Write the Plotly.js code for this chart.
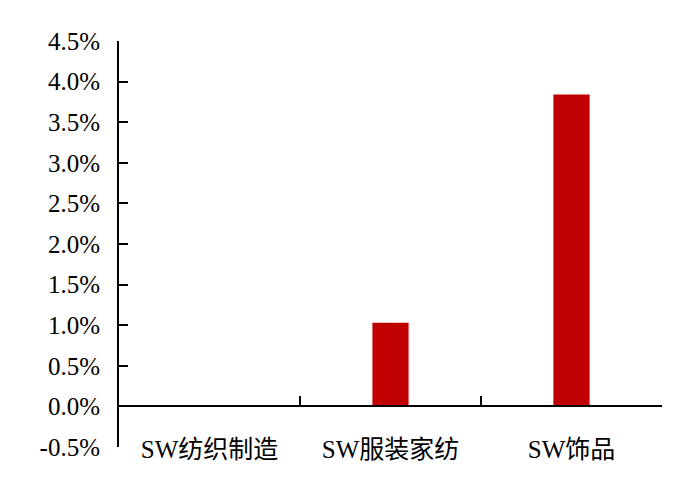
<!DOCTYPE html>
<html>
<head>
<meta charset="utf-8">
<script src="https://cdn.plot.ly/plotly-3.0.1.min.js"></script>
<style>
  html, body { margin: 0; padding: 0; background: #fff; }
  #chart { width: 700px; height: 487px; }
</style>
</head>
<body>
<div id="chart"></div>
<script>
const categories = ['SW纺织制造', 'SW服装家纺', 'SW饰品'];
const returns = [0.0, 1.03, 3.84];
const yTickVals = [-0.5, 0, 0.5, 1, 1.5, 2, 2.5, 3, 3.5, 4, 4.5];
const yTickText = ['-0.5%', '0.0%', '0.5%', '1.0%', '1.5%', '2.0%', '2.5%', '3.0%', '3.5%', '4.0%', '4.5%'];

const FONT = "'Liberation Serif', 'Noto Sans CJK SC', serif";

const trace = {
  x: categories,
  y: returns,
  type: 'bar',
  marker: { color: '#c00000' },
  hoverinfo: 'skip',
};

const layout = {
  width: 700,
  height: 487,
  paper_bgcolor: '#ffffff',
  plot_bgcolor: '#ffffff',
  font: { family: FONT, color: '#000', size: 22 },
  margin: { t: 41, r: 38, b: 40, l: 119 },
  showlegend: false,
  bargap: 0.8,
  xaxis: {
    type: 'category',
    anchor: 'free',
    position: 0.1,
    showline: true,
    linecolor: '#000',
    linewidth: 2,
    ticks: 'inside',
    tickson: 'boundaries',
    ticklen: 9,
    tickwidth: 2,
    tickcolor: '#000',
    ticklabelstandoff: 21,
    tickfont: { family: FONT, size: 25, color: '#000' },
    showgrid: false,
    zeroline: false,
    fixedrange: true,
  },
  yaxis: {
    range: [-0.5, 4.5],
    tickvals: yTickVals,
    ticktext: yTickText,
    showline: true,
    linecolor: '#000',
    linewidth: 2,
    ticks: 'inside',
    ticklen: 9,
    tickwidth: 2,
    tickcolor: '#000',
    ticklabelstandoff: 12,
    tickfont: { family: FONT, size: 25, color: '#000' },
    showgrid: false,
    zeroline: false,
    fixedrange: true,
  },
};

Plotly.newPlot('chart', [trace], layout, { displayModeBar: false, staticPlot: true });
</script>
</body>
</html>
